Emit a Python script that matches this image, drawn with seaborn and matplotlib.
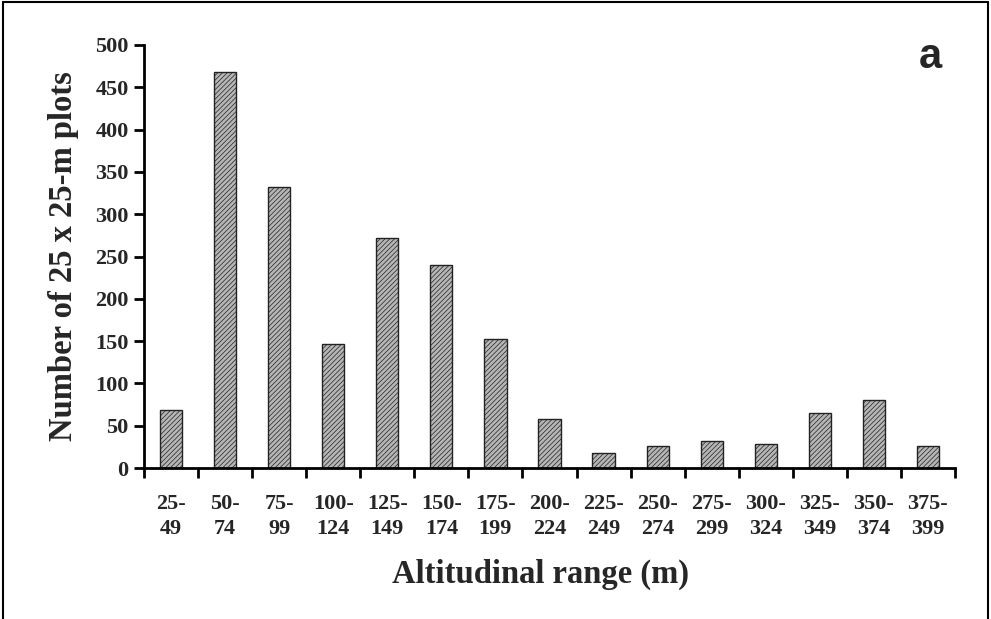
import matplotlib
matplotlib.use('Agg')
import matplotlib.pyplot as plt
import seaborn as sns
import pandas as pd

# data
ranges = ['25-\n49', '50-\n74', '75-\n99', '100-\n124', '125-\n149', '150-\n174',
          '175-\n199', '200-\n224', '225-\n249', '250-\n274', '275-\n299',
          '300-\n324', '325-\n349', '350-\n374', '375-\n399']
n_plots = [68, 468, 332, 146, 272, 240, 152, 58, 18, 26, 32, 28, 65, 80, 26]
y_ticks = [0, 50, 100, 150, 200, 250, 300, 350, 400, 450, 500]

df = pd.DataFrame({'range': ranges, 'n': n_plots})

sns.set_theme(style='white')
plt.rcParams['font.family'] = ['Liberation Serif', 'DejaVu Serif']
plt.rcParams['hatch.color'] = '#9c9c9c'
plt.rcParams['hatch.linewidth'] = 0.5

fig = plt.figure(figsize=(9.91, 6.19), dpi=100)
ax = fig.add_axes([144/991, 1 - 468/619, (955 - 144)/991, (468 - 45)/619])

sns.barplot(data=df, x='range', y='n', ax=ax, color='#b6b6b6', width=0.41,
            edgecolor='#222222', linewidth=1.0, saturation=1)
for p in ax.patches:
    p.set_hatch('///////')

ax.set_xlim(-0.5, len(ranges) - 0.5)
ax.set_ylim(0, 500)
ax.set_yticks(y_ticks)
ax.set_yticklabels([str(v) for v in y_ticks], fontsize=16, fontweight='bold')
ax.set_xticks([i - 0.5 for i in range(len(ranges) + 1)])
ax.set_xticklabels([])
ax.set_xticks(range(len(ranges)), minor=True)
ax.set_xticklabels(ranges, minor=True, fontsize=16, fontweight='bold',
                   linespacing=1.3)
ax.tick_params(axis='x', which='minor', length=0, pad=19)
ax.tick_params(axis='x', which='major', direction='out', length=7, width=2,
               color='black', bottom=True)
ax.tick_params(axis='y', direction='out', length=7, width=2, color='black',
               left=True, pad=4)

for s in ['top', 'right']:
    ax.spines[s].set_visible(False)
for s in ['left', 'bottom']:
    ax.spines[s].set_linewidth(2)
    ax.spines[s].set_color('black')

ax.set_xlabel('Altitudinal range (m)', fontsize=23.5, fontweight='bold')
ax.xaxis.set_label_coords((541 - 144) / (955 - 144), -0.214)
ax.set_ylabel('Number of 25 x 25-m plots', fontsize=23.5, fontweight='bold', labelpad=12)

fig.text(930/991, 1 - 57/619, 'a', fontsize=30, fontweight='bold',
         family=['Liberation Sans', 'DejaVu Sans'], ha='center', va='center')

# frame around the panel (no bottom edge in the scan)
fig.add_artist(plt.Line2D([3/991, 3/991], [0, 1 - 2/619], color='black', lw=1.5))
fig.add_artist(plt.Line2D([3/991, 988/991], [1 - 2/619, 1 - 2/619], color='black', lw=1.5))
fig.add_artist(plt.Line2D([988/991, 988/991], [0, 1 - 2/619], color='black', lw=1.5))

fig.savefig('out.png', dpi=100)
